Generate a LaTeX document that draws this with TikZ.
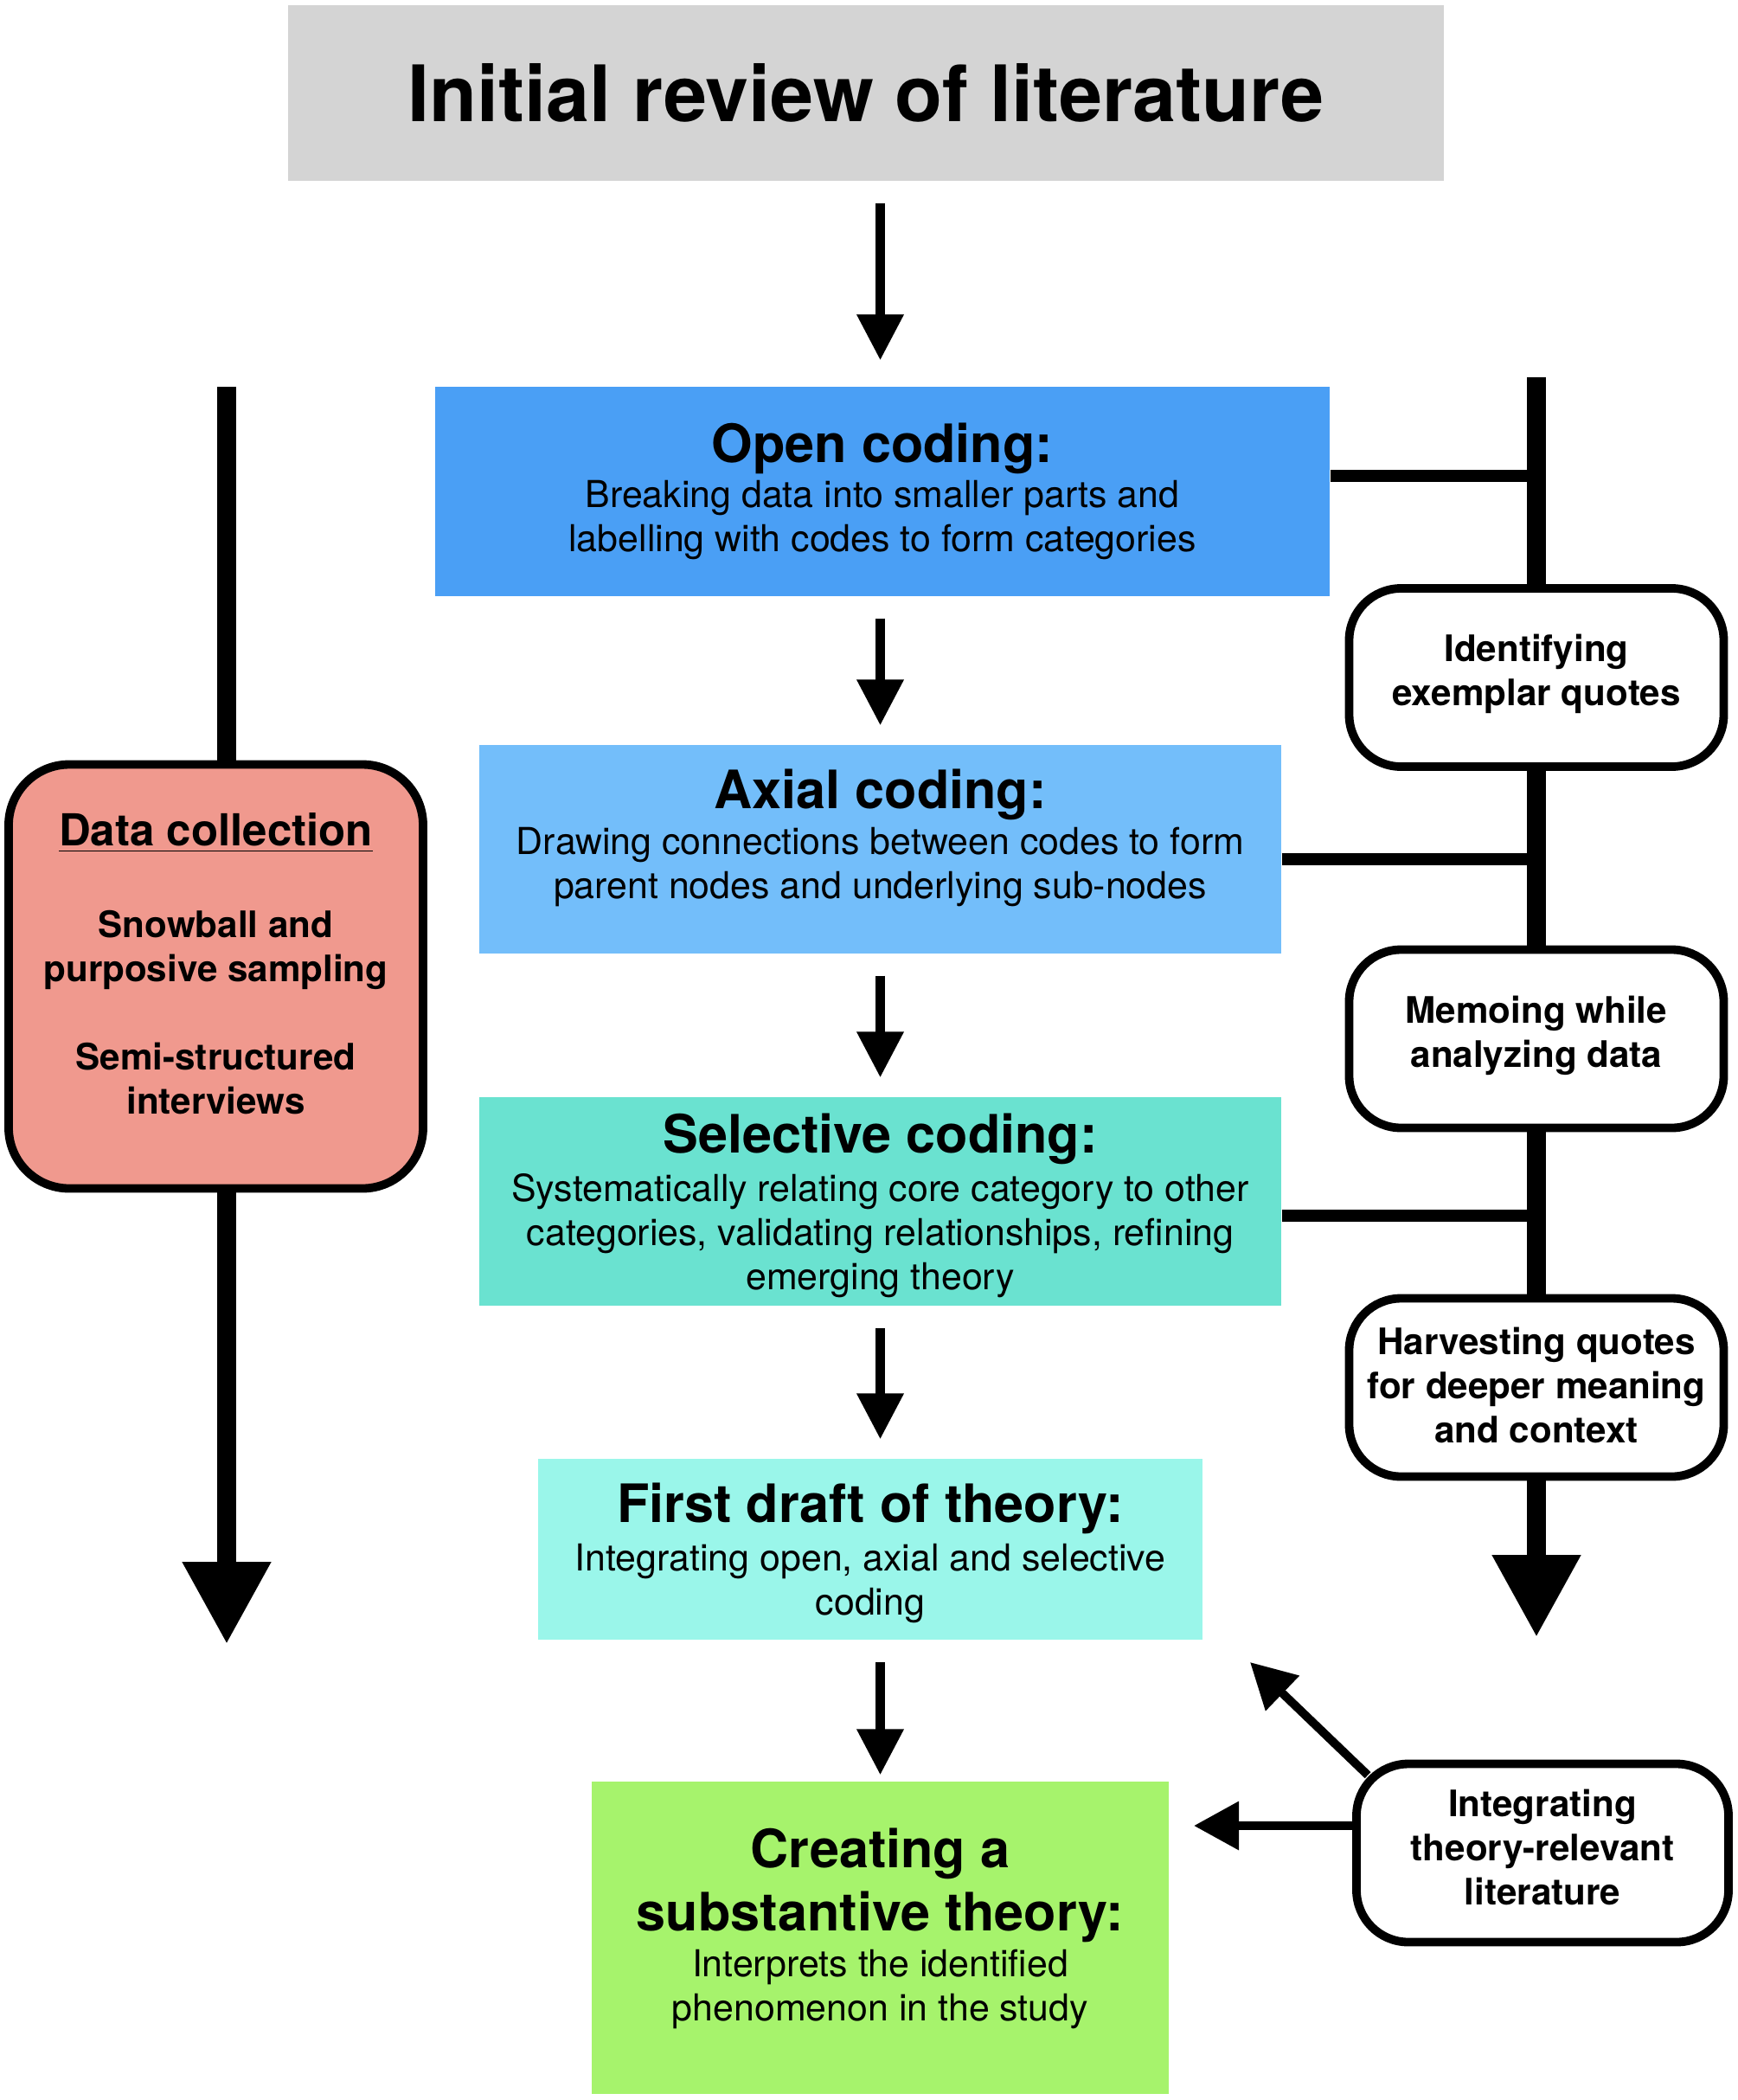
\documentclass[tikz,border=0pt]{standalone}
\usepackage{fontspec}
\setmainfont{TeX Gyre Heros}
\usepackage{tikz}
\usetikzlibrary{arrows.meta}
\definecolor{reviewgrey}{RGB}{212,212,212}
\definecolor{openblue}{RGB}{74,159,245}
\definecolor{axialblue}{RGB}{115,190,250}
\definecolor{selectteal}{RGB}{106,226,208}
\definecolor{draftcyan}{RGB}{154,246,234}
\definecolor{theorygreen}{RGB}{166,243,108}
\definecolor{collectsalmon}{RGB}{240,153,142}
\newcommand{\stagetitle}[1]{{\bfseries\fontsize{17.4}{20.8}\selectfont #1}}

\begin{document}
\begin{tikzpicture}[
  stagebox/.style={align=center, inner sep=0pt, font=\fontsize{12.2}{14.5}\selectfont},
  sidebox/.style={draw, fill=white, line width=2.8pt, rounded corners=0.6cm, align=center, inner sep=0pt,
    minimum width=4.33cm, minimum height=2.06cm, text depth=0.17cm, font=\bfseries\fontsize{12}{14.5}\selectfont},
  flow/.style={line width=3pt, -{Triangle[length=0.53cm, width=0.52cm]}, shorten <=0.25cm, shorten >=0.22cm},
  lane/.style={line width=6pt},
  lanetip/.style={line width=6pt, -{Triangle[length=0.95cm, width=0.97cm]}},
  tie/.style={line width=4pt},
  feed/.style={line width=2.8pt, -{Triangle[length=0.52cm, width=0.54cm]}}
]
\useasboundingbox (0, 0) rectangle (20.08, -24.27);

\node at (10.01, -1.075) (review) [fill=reviewgrey, minimum width=13.36cm, minimum height=2.03cm,
  font=\bfseries\fontsize{25.6}{30}\selectfont] {Initial review of literature};
\node at (10.2, -5.68) (open) [stagebox, fill=openblue, minimum width=10.34cm, minimum height=2.42cm]
  {\stagetitle{Open coding:}\\[0.5pt] Breaking data into smaller parts and\\ labelling with codes to form categories};
\node at (10.175, -9.815) (axial) [stagebox, fill=axialblue, minimum width=9.27cm, minimum height=2.41cm, text depth=0.36cm]
  {\stagetitle{Axial coding:}\\[0.5pt] Drawing connections between codes to form\\ parent nodes and underlying sub-nodes};
\node at (10.175, -13.885) (select) [stagebox, fill=selectteal, minimum width=9.27cm, minimum height=2.41cm, text depth=0cm]
  {\stagetitle{Selective coding:}\\[1.5pt] Systematically relating core category to other\\ categories, validating relationships, refining\\ emerging theory};
\node at (10.06, -17.905) (draft) [stagebox, fill=draftcyan, minimum width=7.68cm, minimum height=2.09cm, text depth=0cm]
  {\stagetitle{First draft of theory:}\\[1.5pt] Integrating open, axial and selective\\ coding};
\node at (10.175, -22.395) (theory) [stagebox, fill=theorygreen, minimum width=6.67cm, minimum height=3.61cm, text depth=0.3cm]
  {\stagetitle{Creating a}\\[3pt] \stagetitle{substantive theory:}\\[0.5pt] Interprets the identified\\ phenomenon in the study};

\node at (2.495, -11.285) (collect) [draw, fill=collectsalmon, line width=2.8pt, rounded corners=0.7cm,
  minimum width=4.79cm, minimum height=4.9cm, text depth=0.3cm, align=center, inner sep=0pt, font=\bfseries\fontsize{12}{14.5}\selectfont]
  {{\fontsize{14.5}{14.5}\selectfont\underline{Data collection}}\\[15.5pt] Snowball and\\ purposive sampling\\[14.5pt] Semi-structured\\ interviews};

\node at (17.76, -7.83) (exemplar) [sidebox] {Identifying\\ exemplar quotes};
\node at (17.76, -12.005) (memo) [sidebox] {Memoing while\\ analyzing data};
\node at (17.76, -16.035) (harvest) [sidebox, text depth=0.06cm] {Harvesting quotes\\ for deeper meaning\\ and context};
\node at (17.83, -21.415) (integrate) [sidebox, minimum width=4.3cm, minimum height=2.06cm, text depth=0.14cm] {Integrating\\ theory-relevant\\ literature};

\coordinate (lefttop) at (2.62, -4.47);
\coordinate (leftend) at (2.62, -19.0);
\coordinate (righttop) at (17.76, -4.36);
\coordinate (rightend) at (17.76, -18.92);
\coordinate (openjoin) at (17.76, -5.50);
\coordinate (axialjoin) at (17.76, -9.93);
\coordinate (selectjoin) at (17.76, -14.05);
\coordinate (theorytip) at (13.80, -21.10);
\coordinate (drafttip) at (14.45, -19.21);

\draw[flow, shorten >=0.3cm] (review.south -| axial) -- (open.north -| axial);
\draw[flow] (open.south -| axial) -- (axial.north);
\draw[flow] (axial.south) -- (select.north);
\draw[flow] (select.south) -- (draft.north -| axial);
\draw[flow, shorten >=0.07cm] (draft.south -| axial) -- (theory.north);

\draw[lane] (lefttop) -- (collect.north -| lefttop);
\draw[lanetip] (collect.south -| lefttop) -- (leftend);

\draw[lane] (righttop) -- (exemplar.north);
\draw[lane] (exemplar.south) -- (memo.north);
\draw[lane] (memo.south) -- (harvest.north);
\draw[lanetip] (harvest.south) -- (rightend);

\draw[tie] (openjoin -| open.east) -- (openjoin);
\draw[tie] (axialjoin -| axial.east) -- (axialjoin);
\draw[tie] (selectjoin -| select.east) -- (selectjoin);

\draw[feed] (integrate.west |- theorytip) -- (theorytip);
\draw[feed] ([shift={(0.18cm,-0.18cm)}]integrate.north west) -- (drafttip);
\end{tikzpicture}
\end{document}
